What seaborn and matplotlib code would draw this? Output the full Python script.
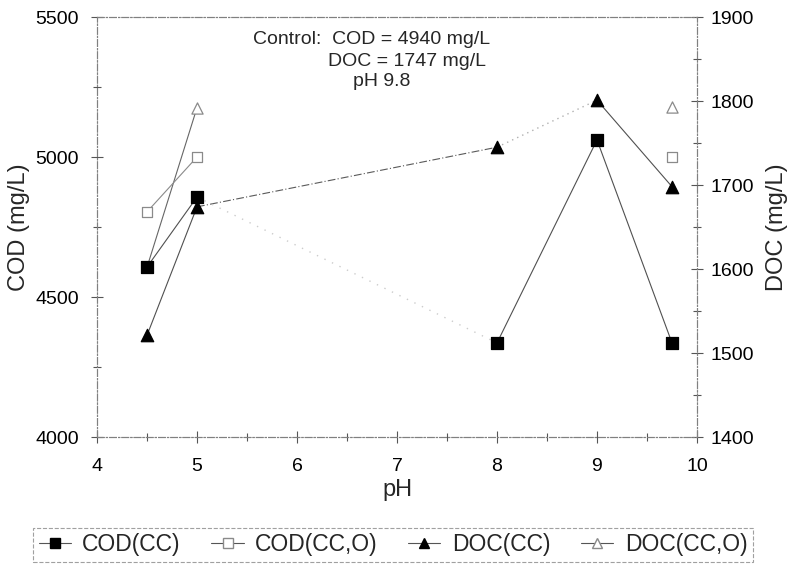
import numpy as np
import pandas as pd
import matplotlib
matplotlib.use("Agg")
import matplotlib.pyplot as plt
from matplotlib.lines import Line2D
from matplotlib.ticker import MultipleLocator
import seaborn as sns

# ---- data ----
ph = [4.5, 5.0, 8.0, 9.0, 9.75]
cod_cc = [4607, 4857, 4336, 5061, 4336]
cod_cco = [4804, 5000, np.nan, np.nan, 5000]
doc_cc = [1521, 1674, 1745, 1801, 1698]
doc_cco = [1602, 1792, np.nan, np.nan, 1793]
series_names = ["COD(CC)", "COD(CC,O)", "DOC(CC)", "DOC(CC,O)"]
x_ticks = [4, 5, 6, 7, 8, 9, 10]
cod_ticks = [4000, 4500, 5000, 5500]
doc_ticks = [1400, 1500, 1600, 1700, 1800, 1900]
note_lines = ["Control:  COD = 4940 mg/L", "DOC = 1747 mg/L", "pH 9.8"]

sns.set_theme(style="white")
plt.rcParams["font.family"] = ["Liberation Sans", "DejaVu Sans"]

fig = plt.figure(figsize=(7.92, 5.67), dpi=100)
ax = fig.add_axes([97 / 792, 1 - 437 / 567, 600 / 792, 420 / 567])
ax2 = ax.twinx()
# COD axis drawn on top (its square hides the DOC(CC,O) triangle at pH 4.5)
ax.set_zorder(ax2.get_zorder() + 1)
ax.patch.set_visible(False)

LINE = "#505050"

seg_styles = {
    "COD(CC)": [("-", LINE, 0.8), ((0, (1, 5)), "#cccccc", 1.0), ("-", LINE, 0.8), ("-", LINE, 0.8)],
    "COD(CC,O)": [("-", "#8a8a8a", 0.8), None, None, None],
    "DOC(CC)": [("-", LINE, 0.8), ((0, (7, 2, 1, 2)), "#5a5a5a", 0.8), ((0, (1, 3)), "#b0b0b0", 1.0), ("-", LINE, 0.8)],
    "DOC(CC,O)": [("-", "#666666", 0.8), None, None, None],
}
marker_styles = {
    "COD(CC)": dict(marker="s", s=75, color="black", edgecolor="black"),
    "COD(CC,O)": dict(marker="s", s=60, color="white", edgecolor="#8a8a8a"),
    "DOC(CC)": dict(marker="^", s=80, color="black", edgecolor="black"),
    "DOC(CC,O)": dict(marker="^", s=65, color="white", edgecolor="#8a8a8a"),
}
data = {"COD(CC)": (ax, cod_cc), "COD(CC,O)": (ax, cod_cco),
        "DOC(CC)": (ax2, doc_cc), "DOC(CC,O)": (ax2, doc_cco)}

for name in series_names:
    a, vals = data[name]
    df = pd.DataFrame({"pH": ph, "v": vals})
    for i, st in enumerate(seg_styles[name]):
        if st is None:
            continue
        seg = df.iloc[i:i + 2]
        if seg["v"].isna().any():
            continue
        sns.lineplot(data=seg, x="pH", y="v", ax=a, color=st[1], linestyle=st[0],
                     linewidth=st[2], estimator=None, sort=False, legend=False, zorder=2)
    ms = marker_styles[name]
    sns.scatterplot(data=df.dropna(), x="pH", y="v", ax=a, marker=ms["marker"], s=ms["s"],
                    color=ms["color"], edgecolor=ms["edgecolor"], linewidth=0.9,
                    legend=False, zorder=3)

ax.set_xlim(4, 10)
ax.set_ylim(4000, 5500)
ax2.set_ylim(1400, 1900)
ax.set_xticks(x_ticks)
ax.set_xticklabels([str(t) for t in x_ticks])
ax.set_yticks(cod_ticks)
ax.set_yticklabels([str(t) for t in cod_ticks])
ax2.set_yticks(doc_ticks)
ax2.set_yticklabels([str(t) for t in doc_ticks])
ax.xaxis.set_minor_locator(MultipleLocator(0.5))
ax.yaxis.set_minor_locator(MultipleLocator(250))
ax2.yaxis.set_minor_locator(MultipleLocator(50))

for a in (ax, ax2):
    a.tick_params(which="major", direction="inout", length=8, width=0.8, color="#555555",
                  labelsize=14, labelcolor="black")
    a.tick_params(which="minor", direction="inout", length=6, width=0.8, color="#555555")
    for sp in a.spines.values():
        sp.set_linestyle((0, (6, 2, 1, 2)))
        sp.set_color("#808080")
        sp.set_linewidth(0.8)
ax.tick_params(axis="both", which="both", bottom=True, left=True, top=False, right=False)
ax2.tick_params(axis="y", which="both", right=True, left=False)
ax.tick_params(axis="x", pad=11)
ax.tick_params(axis="y", pad=9)
ax2.tick_params(axis="y", pad=6)

ax.set_xlabel("pH", fontsize=17, labelpad=3)
ax.set_ylabel("COD (mg/L)", fontsize=17, labelpad=4)
ax2.set_ylabel("DOC (mg/L)", fontsize=17, labelpad=8)
ax.grid(False)
ax2.grid(False)

ax.text((253 - 97) / 600, (437 - 40) / 420, note_lines[0], transform=ax.transAxes,
        fontsize=14, va="center", ha="left")
ax.text((328 - 97) / 600, (437 - 61) / 420, note_lines[1], transform=ax.transAxes,
        fontsize=14, va="center", ha="left")
ax.text((353 - 97) / 600, (437 - 82) / 420, note_lines[2], transform=ax.transAxes,
        fontsize=14, va="center", ha="left")

handles = []
for name in series_names:
    ms = marker_styles[name]
    handles.append(Line2D([0], [0], color="#555555", linewidth=0.8, marker=ms["marker"],
                          markersize=7.5, markerfacecolor=ms["color"],
                          markeredgecolor=ms["edgecolor"]))
leg = fig.legend(handles, series_names, loc="lower left",
                 bbox_to_anchor=(33 / 792, 1 - 562 / 567, 720 / 792, 37 / 567),
                 mode="expand", ncol=4, fontsize=16.5, frameon=True, fancybox=False,
                 handlelength=1.4, handletextpad=0.5, borderaxespad=0, borderpad=0.25)
fr = leg.get_frame()
fr.set_edgecolor("#888888")
fr.set_linestyle("--")
fr.set_linewidth(0.8)

fig.savefig("out.png", dpi=100)
